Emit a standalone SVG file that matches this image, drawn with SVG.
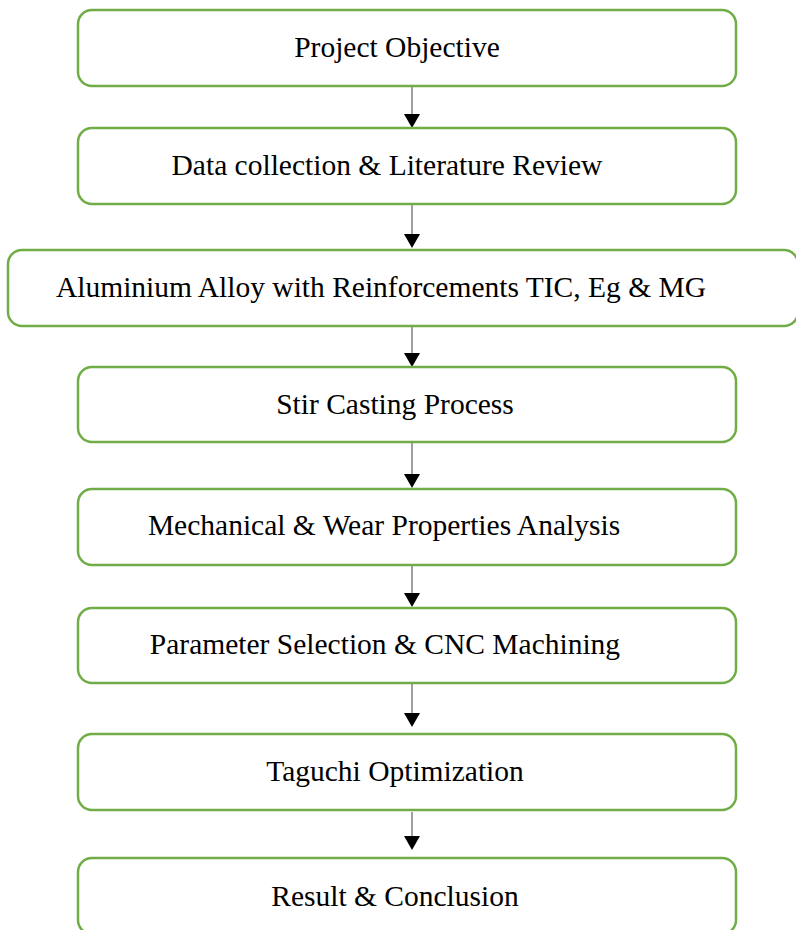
<svg xmlns="http://www.w3.org/2000/svg" width="796" height="930" viewBox="0 0 796 930">
  <defs>
    <style>
      .box { fill: #ffffff; stroke: #70AD47; stroke-width: 2.5; }
      .lbl { font-family: "Liberation Serif", "Times New Roman", serif; font-size: 29.5px; fill: #000000; text-anchor: middle; }
      .link { stroke: #808080; stroke-width: 1.5; fill: none; }
      .tip { fill: #000000; }
    </style>
  </defs>
  <rect width="796" height="930" fill="#ffffff"/>

  <g id="connectors">
    <line class="link" x1="412" y1="86" x2="412" y2="114"/>
    <path class="tip" d="M404,114 L420,114 L412,128 Z"/>
    <line class="link" x1="412" y1="204" x2="412" y2="234"/>
    <path class="tip" d="M404,234 L420,234 L412,248 Z"/>
    <line class="link" x1="412" y1="326" x2="412" y2="353"/>
    <path class="tip" d="M404,353 L420,353 L412,367 Z"/>
    <line class="link" x1="412" y1="442" x2="412" y2="474"/>
    <path class="tip" d="M404,474 L420,474 L412,488 Z"/>
    <line class="link" x1="412" y1="565" x2="412" y2="593"/>
    <path class="tip" d="M404,593 L420,593 L412,607 Z"/>
    <line class="link" x1="412" y1="683" x2="412" y2="713"/>
    <path class="tip" d="M404,713 L420,713 L412,727 Z"/>
    <line class="link" x1="412" y1="812" x2="412" y2="836"/>
    <path class="tip" d="M404,836 L420,836 L412,850 Z"/>
  </g>

  <g id="n1">
    <rect class="box" x="78" y="10" width="658" height="76" rx="14"/>
    <text class="lbl" x="397" y="57">Project Objective</text>
  </g>
  <g id="n2">
    <rect class="box" x="78" y="128" width="658" height="76" rx="14"/>
    <text class="lbl" x="387" y="175">Data collection &amp; Literature Review</text>
  </g>
  <g id="n3">
    <rect class="box" x="8" y="250" width="790" height="76" rx="14"/>
    <text class="lbl" x="381" y="297">Aluminium Alloy with Reinforcements TIC, Eg &amp; MG</text>
  </g>
  <g id="n4">
    <rect class="box" x="78" y="367" width="658" height="75" rx="14"/>
    <text class="lbl" x="395" y="414">Stir Casting Process</text>
  </g>
  <g id="n5">
    <rect class="box" x="78" y="489" width="658" height="76" rx="14"/>
    <text class="lbl" x="384" y="535">Mechanical &amp; Wear Properties Analysis</text>
  </g>
  <g id="n6">
    <rect class="box" x="78" y="608" width="658" height="75" rx="14"/>
    <text class="lbl" x="385" y="654">Parameter Selection &amp; CNC Machining</text>
  </g>
  <g id="n7">
    <rect class="box" x="78" y="734" width="658" height="76" rx="14"/>
    <text class="lbl" x="395" y="781">Taguchi Optimization</text>
  </g>
  <g id="n8">
    <rect class="box" x="78" y="858" width="658" height="76" rx="14"/>
    <text class="lbl" x="395" y="906">Result &amp; Conclusion</text>
  </g>
</svg>
